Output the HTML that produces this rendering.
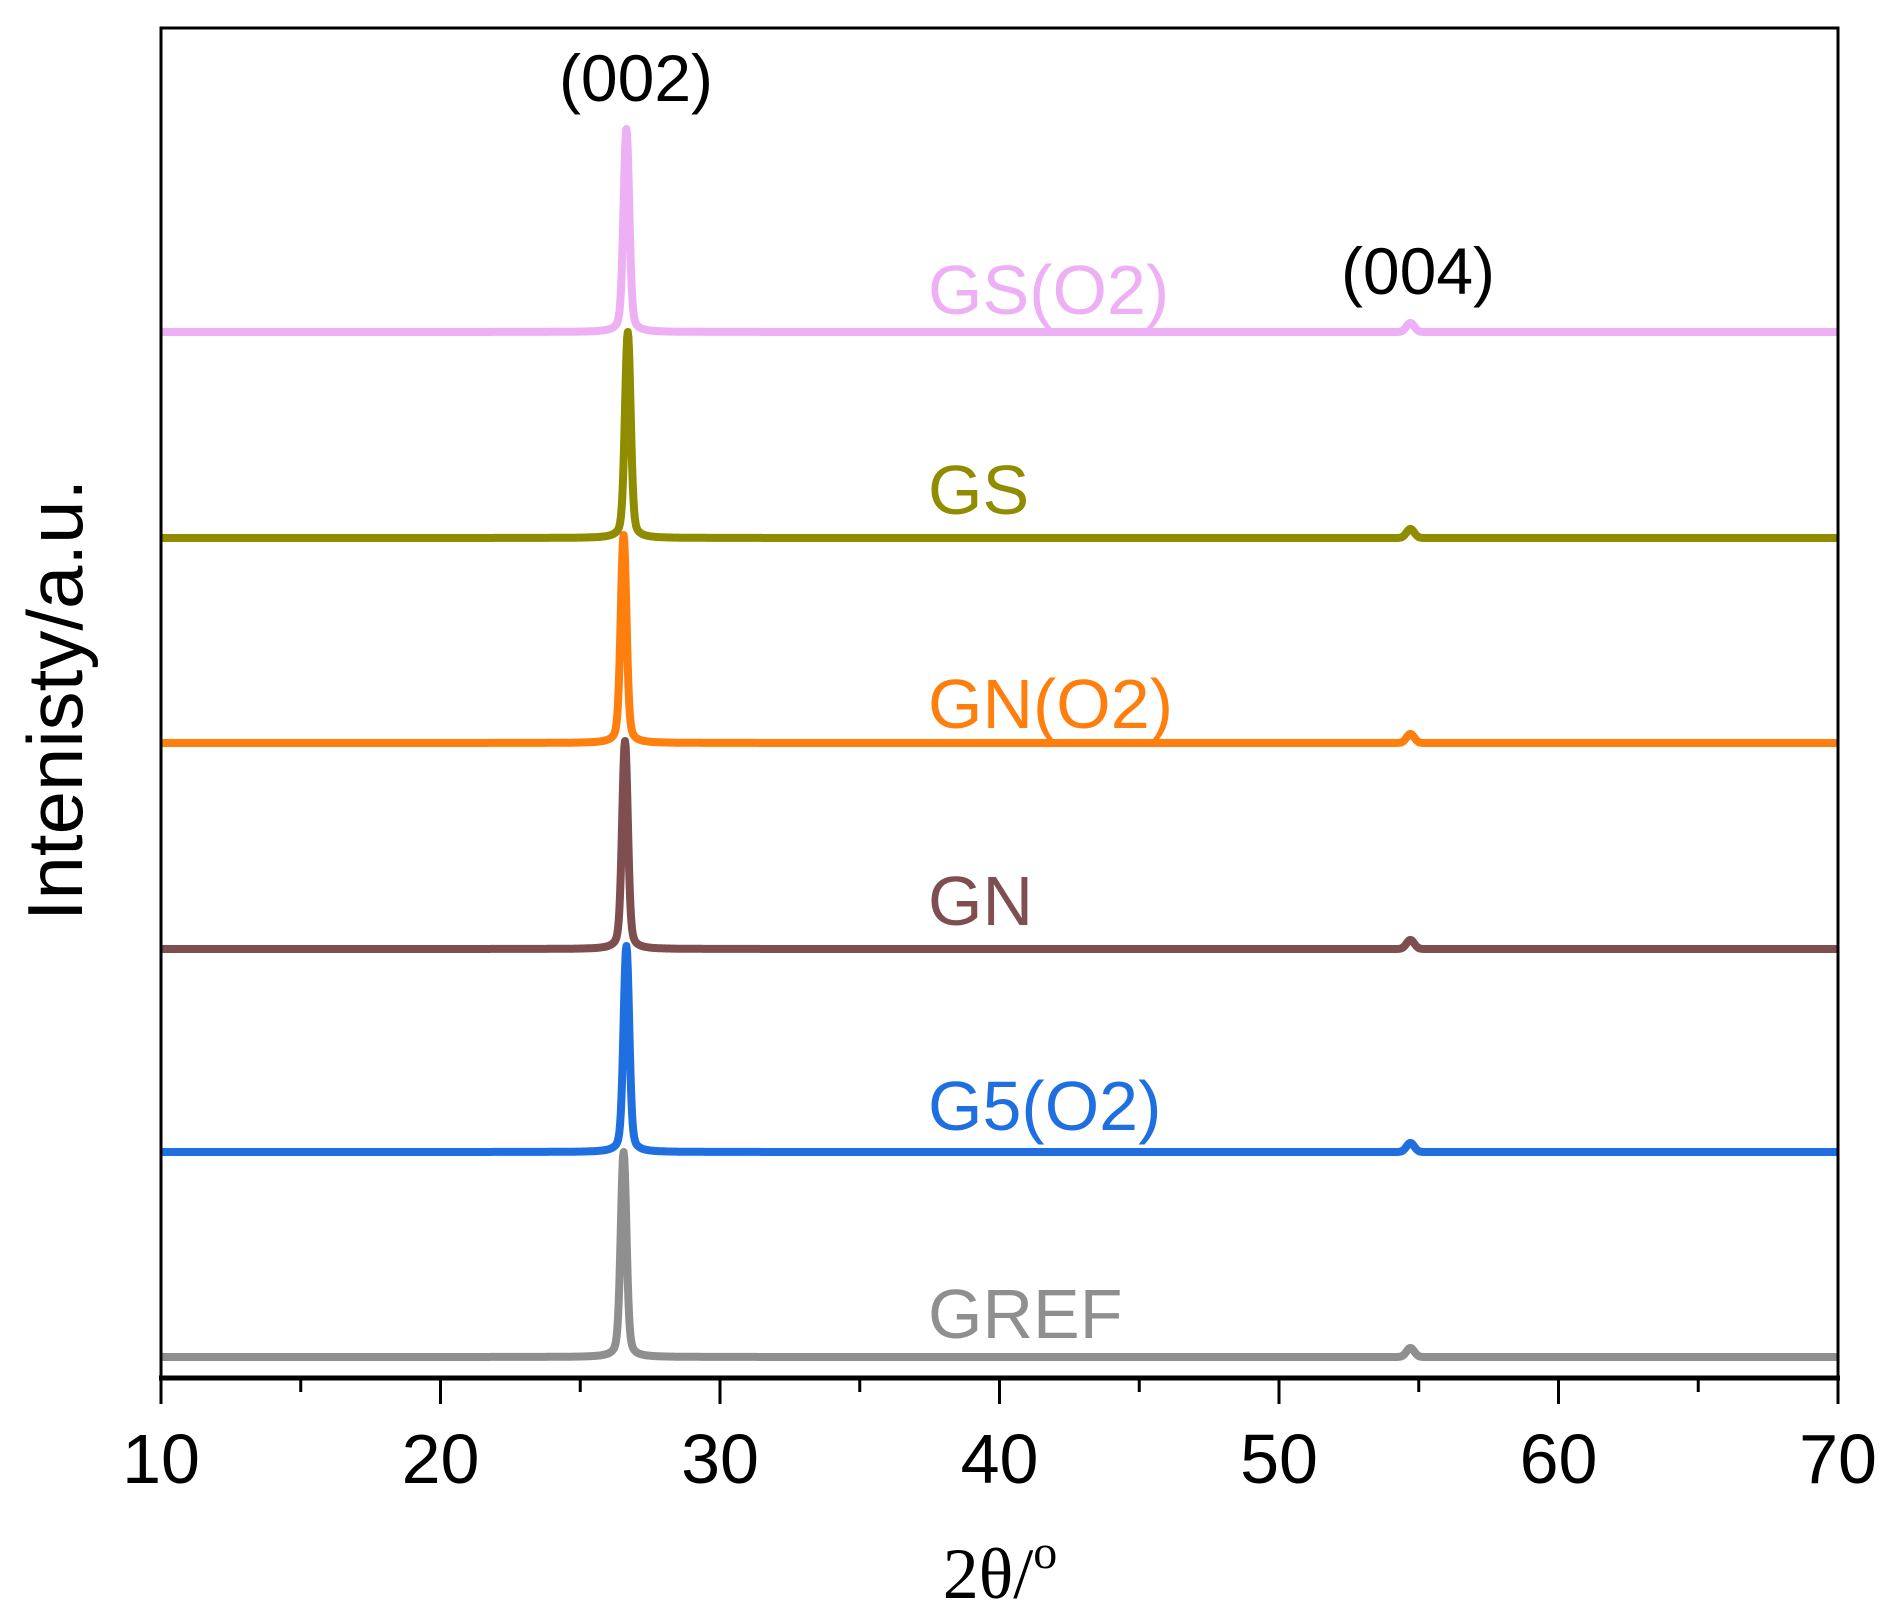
<!DOCTYPE html>
<html><head><meta charset="utf-8"><style>
html,body{margin:0;padding:0;background:#fff;}
svg{display:block;}
text{font-family:"Liberation Sans",sans-serif;}
</style></head><body>
<svg id="s" width="1895" height="1621" viewBox="0 0 1895 1621" xmlns="http://www.w3.org/2000/svg">
<rect x="0" y="0" width="1895" height="1621" fill="#fff"/>
<g id="series" fill="none" stroke-width="8" stroke-linejoin="round"></g>
<rect x="161" y="28" width="1677" height="1350" fill="none" stroke="#000" stroke-width="3"/>
<line x1="159" y1="1378" x2="1840" y2="1378" stroke="#000" stroke-width="5"/>
<g id="ticks" stroke="#000" stroke-width="3"></g>
<g font-size="70" text-anchor="middle" fill="#000">
<text x="161" y="1483">10</text><text x="440.5" y="1483">20</text><text x="720" y="1483">30</text>
<text x="999.5" y="1483">40</text><text x="1279" y="1483">50</text><text x="1558.5" y="1483">60</text><text x="1838" y="1483">70</text>
</g>
<text x="1000" y="1598" font-size="72" text-anchor="middle" style="font-family:'Liberation Serif',serif">2θ/<tspan font-size="48" dy="-30">o</tspan></text>
<text transform="translate(82,700) rotate(-90)" font-size="78" text-anchor="middle">Intenisty/a.u.</text>
<text x="636" y="101" font-size="66" text-anchor="middle">(002)</text>
<text x="1418" y="294" font-size="66" text-anchor="middle">(004)</text>
<g font-size="70">
<text x="928" y="314" fill="#eeb0f5">GS(O2)</text>
<text x="928" y="514" fill="#8f8c00">GS</text>
<text x="928" y="728" fill="#ff7f0e">GN(O2)</text>
<text x="928" y="925" fill="#7f4f4f">GN</text>
<text x="928" y="1130" fill="#1f6fe0">G5(O2)</text>
<text x="928" y="1338" fill="#8f8f8f">GREF</text>
</g>
</svg>
<script>
var X=function(v){return 161+(v-10)*1677/60;};
var series=[
 ["#eeb0f5",332,129,26.65],["#8f8c00",538,332,26.7],["#ff7f0e",743,535,26.55],
 ["#7f4f4f",949,741,26.6],["#1f6fe0",1152,946,26.65],["#8f8f8f",1357,1152,26.55]];
var g=document.getElementById('series');
series.forEach(function(s){
 var d='',h=s[1]-s[2];
 for(var v=10;v<=70.001;v+=0.025){
  var dv=v-s[3];
  var p=h*(0.75*Math.exp(-dv*dv/(2*0.1*0.1))+0.25/(1+Math.pow(dv/0.15,2)));
  var q=9*Math.exp(-Math.pow((v-54.7)/0.2,2));
  var y=s[1]-p-q;
  d+=(d?'L':'M')+X(v).toFixed(1)+' '+y.toFixed(1);
 }
 var e=document.createElementNS('http://www.w3.org/2000/svg','path');
 e.setAttribute('d',d);e.setAttribute('stroke',s[0]);g.appendChild(e);
});
var t=document.getElementById('ticks');
for(var v=10;v<=70;v+=5){
 var l=document.createElementNS('http://www.w3.org/2000/svg','line');
 var x=X(v);l.setAttribute('x1',x);l.setAttribute('x2',x);
 l.setAttribute('y1',1378);l.setAttribute('y2',v%10==0?1404:1392);t.appendChild(l);
}
</script>
</body></html>
